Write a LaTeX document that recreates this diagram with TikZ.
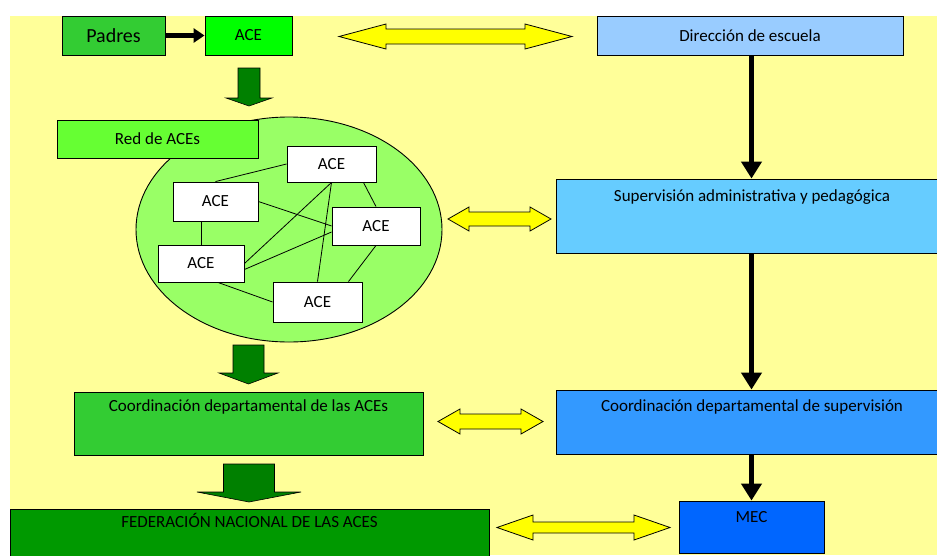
\documentclass[tikz,border=0pt]{standalone}
\usepackage{fontspec}
\setmainfont{Carlito}
\usetikzlibrary{shapes.geometric, arrows.meta}
\definecolor{fondo}{HTML}{FFFF99}
\definecolor{verdemedio}{HTML}{33CC33}
\definecolor{verdelima}{HTML}{00FF00}
\definecolor{verdered}{HTML}{66FF33}
\definecolor{verdeclaro}{HTML}{99FF66}
\definecolor{verdeoscuro}{HTML}{009900}
\definecolor{verdeflecha}{HTML}{008000}
\definecolor{azulclaro}{HTML}{99CCFF}
\definecolor{azulcielo}{HTML}{66CCFF}
\definecolor{azulmedio}{HTML}{3399FF}
\definecolor{azulfuerte}{HTML}{0066FF}
\definecolor{amarillo}{HTML}{FFFF00}
\tikzstyle{caja} = [rectangle, draw=black, line width=0.9pt, inner sep=0pt, font=\fontsize{17}{19}\selectfont]
\tikzstyle{ace} = [caja, fill=white]
\tikzstyle{titulo} = [anchor=north, inner sep=0pt, text height=12pt, text depth=4pt, font=\fontsize{17}{19}\selectfont]
\tikzstyle{flecha} = [line width=5pt, -{Triangle[length=17pt, width=20pt]}]
\tikzstyle{flechachica} = [line width=5pt, -{Triangle[length=11pt, width=14pt]}]
\tikzstyle{enlace} = [line width=0.8pt]
\tikzstyle{bloqueverde} = [fill=verdeflecha, draw=black, line width=0.6pt]
\tikzstyle{bloqueamarillo} = [fill=amarillo, draw=black, line width=0.8pt]
% block arrow pointing down: centre x, top, base of head, tip, half shaft, half head
\newcommand{\flechaverde}[6]{\filldraw[bloqueverde] (#1-#5,#2) -- (#1+#5,#2) -- (#1+#5,#3) -- (#1+#6,#3) -- (#1,#4) -- (#1-#6,#3) -- (#1-#5,#3) -- cycle;}
% double block arrow: left tip, right tip, centre y, head length, half head, half shaft
\newcommand{\flechaamarilla}[6]{\filldraw[bloqueamarillo] (#1,#3) -- (#1+#4,#3-#5) -- (#1+#4,#3-#6) -- (#2-#4,#3-#6) -- (#2-#4,#3-#5) -- (#2,#3) -- (#2-#4,#3+#5) -- (#2-#4,#3+#6) -- (#1+#4,#3+#6) -- (#1+#4,#3+#5) -- cycle;}
\begin{document}
\begin{tikzpicture}[x=1pt, y=-1pt]
    \useasboundingbox (0,0) rectangle (937,555);
    \clip (0,0) rectangle (937,555);
    \fill[white] (0,0) rectangle (937,555);
    \fill[fondo] (10,16) rectangle (937,555);

    \node (padres) [caja, fill=verdemedio, minimum width=103pt, minimum height=39pt, font=\fontsize{20}{22}\selectfont] at (113.5,35.5) {Padres};
    \node (aceTop) [caja, fill=verdelima, minimum width=87pt, minimum height=39pt, right of=padres, node distance=135pt] {ACE};
    \node (direccion) [caja, fill=azulclaro, minimum width=306pt, minimum height=39pt] at (750,35.5) {Dirección de escuela};

    \node (net) [ellipse, draw=black, line width=0.9pt, fill=verdeclaro, minimum width=306pt, minimum height=225pt] at (289,229.5) {};
    \node (red) [caja, fill=verdered, minimum width=201pt, minimum height=38pt] at (157.5,139) {Red de ACEs};
    \node (n1) [ace, minimum width=89pt, minimum height=36pt] at (331.5,164) {ACE};
    \node (n2) [ace, minimum width=85pt, minimum height=39pt] at (215.5,201.5) {ACE};
    \node (n3) [ace, minimum width=88pt, minimum height=38pt] at (376,226) {ACE};
    \node (n4) [ace, minimum width=86pt, minimum height=37pt] at (201,263.5) {ACE};
    \node (n5) [ace, minimum width=89pt, minimum height=40pt] at (317.5,302) {ACE};

    \node (supervision) [caja, fill=azulcielo, minimum width=392pt, minimum height=74pt, label={[titulo, yshift=-11pt]north:Supervisión administrativa y pedagógica}] at (752,216) {};
    \node (coordaces) [caja, fill=verdemedio, minimum width=349pt, minimum height=63pt, label={[titulo, yshift=-8pt]north:Coordinación departamental de las ACEs}] at (248.5,423.5) {};
    \node (coordsup) [caja, fill=azulmedio, minimum width=392pt, minimum height=64pt, label={[titulo, yshift=-10pt]north:Coordinación departamental de supervisión}] at (752,422) {};
    \node (federacion) [caja, fill=verdeoscuro, minimum width=479pt, minimum height=56pt, label={[titulo, yshift=-7pt]north:FEDERACIÓN NACIONAL DE LAS ACES}] at (249.5,537) {};
    \node (mec) [caja, fill=azulfuerte, minimum width=145pt, minimum height=52pt, label={[titulo, yshift=-10pt]north:MEC}] at (751.5,527) {};

    % red de ACEs
    \draw[enlace] (n1.west) -- (n2.north);
    \draw[enlace] (n1.south) -- (n4.east);
    \draw[enlace] (n1.south) -- (n5.north);
    \draw[enlace] ([xshift=-13pt]n1.south east) -- (n3.north);
    \draw[enlace] (n2.east) -- (n3.west);
    \draw[enlace] (n4.north |- n2.south) -- (n4.north);
    \draw[enlace] ([yshift=-6pt]n4.east) -- ([yshift=-6pt]n3.west);
    \draw[enlace] ([xshift=17pt]n4.south) -- (n5.west);
    \draw[enlace] (n3.south) -- ([xshift=31pt]n5.north);

    \draw[flechachica] (padres) -- (aceTop);
    \draw[flecha] (direccion.south -| mec) -- (supervision.north -| mec);
    \draw[flecha] (supervision.south -| mec) -- (coordsup.north -| mec);
    \draw[flecha] (coordsup.south -| mec) -- (mec.north);

    \flechaverde{249}{68}{98}{106}{11}{23}
    \flechaverde{248.5}{345}{373}{384}{15.5}{29.5}
    \flechaverde{249}{464}{492}{502}{25.5}{52}

    \flechaamarilla{339}{572}{36.5}{47}{12.5}{7.5}
    \flechaamarilla{448}{551}{219}{21}{12}{7}
    \flechaamarilla{438}{543}{421.5}{22}{12.5}{7.5}
    \flechaamarilla{497}{670}{527.5}{36}{12.5}{5.5}
\end{tikzpicture}
\end{document}
